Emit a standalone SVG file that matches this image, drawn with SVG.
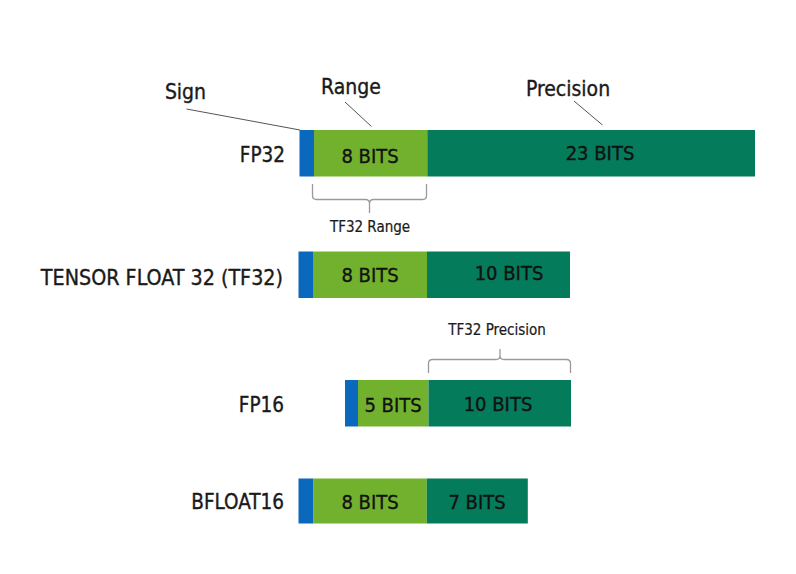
<svg xmlns="http://www.w3.org/2000/svg" width="796" height="574" viewBox="0 0 796 574">
<style>
text{font-family:"DejaVu Sans Condensed","DejaVu Sans",sans-serif;font-stretch:condensed;fill:#1a1a1a;stroke:#1a1a1a;stroke-width:0.35}
.lbl{font-size:20.5px;text-anchor:end}
.bit{font-size:20px;text-anchor:middle;fill:#111;stroke:#111}
.top{font-size:21px;text-anchor:middle}
.small{font-size:15px;text-anchor:middle;stroke-width:0.2}
.sign{fill:#0a69bd}
.rng{fill:#72b12d}
.prec{fill:#047b5b}
.lead{stroke:#555;stroke-width:1;fill:none}
.brk{stroke:#9a9a9a;stroke-width:1.3;fill:none}
</style>
<rect width="796" height="574" fill="#fff"/>
<g id="fp32">
<rect class="sign" x="299.5" y="130" width="14.5" height="46.5"/>
<rect class="rng" x="314" y="130" width="113.3" height="46.5"/>
<rect class="prec" x="427.3" y="130" width="327.7" height="46.5"/>
<text class="lbl" x="285" y="162">FP32</text>
<text class="bit" x="370" y="163">8 BITS</text>
<text class="bit" x="600" y="160">23 BITS</text>
</g>
<g id="tf32">
<rect class="sign" x="298.5" y="251.5" width="14.5" height="46.5"/>
<rect class="rng" x="313" y="251.5" width="114" height="46.5"/>
<rect class="prec" x="427" y="251.5" width="143" height="46.5"/>
<text class="lbl" x="283" y="285" style="font-size:21.3px">TENSOR FLOAT 32 (TF32)</text>
<text class="bit" x="370" y="282">8 BITS</text>
<text class="bit" x="509" y="280">10 BITS</text>
</g>
<g id="fp16">
<rect class="sign" x="345" y="380" width="13" height="46.5"/>
<rect class="rng" x="358" y="380" width="70.5" height="46.5"/>
<rect class="prec" x="428.5" y="380" width="142.5" height="46.5"/>
<text class="lbl" x="284" y="412">FP16</text>
<text class="bit" x="393" y="412">5 BITS</text>
<text class="bit" x="498" y="411">10 BITS</text>
</g>
<g id="bfloat16">
<rect class="sign" x="298.5" y="478.5" width="15" height="45"/>
<rect class="rng" x="313.5" y="478.5" width="113.3" height="45"/>
<rect class="prec" x="426.8" y="478.5" width="101" height="45"/>
<text class="lbl" x="284" y="509">BFLOAT16</text>
<text class="bit" x="370" y="509">8 BITS</text>
<text class="bit" x="477" y="509">7 BITS</text>
</g>
<g id="annotations">
<text class="top" x="185.5" y="99">Sign</text>
<text class="top" x="351" y="94">Range</text>
<text class="top" x="568" y="96">Precision</text>
<text class="small" x="370" y="231.5">TF32 Range</text>
<text class="small" x="497" y="335">TF32 Precision</text>
</g>
<g id="connectors">
<line class="lead" x1="186.5" y1="109" x2="300" y2="130"/>
<line class="lead" x1="345" y1="102" x2="371.5" y2="126.5"/>
<line class="lead" x1="574" y1="101" x2="602.5" y2="125"/>
<path class="brk" d="M312.5,184 V195.5 Q312.5,199.5 316.5,199.5 H365.5 Q369.5,199.5 369.5,203.5 V213 M369.5,203.5 Q369.5,199.5 373.5,199.5 H422.5 Q426.5,199.5 426.5,195.5 V184"/>
<path class="brk" d="M428.5,373 V363.5 Q428.5,359.5 432.5,359.5 H496 Q500,359.5 500,355.5 V349 M500,355.5 Q500,359.5 504,359.5 H566.5 Q570.5,359.5 570.5,363.5 V373"/>
</g>
</svg>
